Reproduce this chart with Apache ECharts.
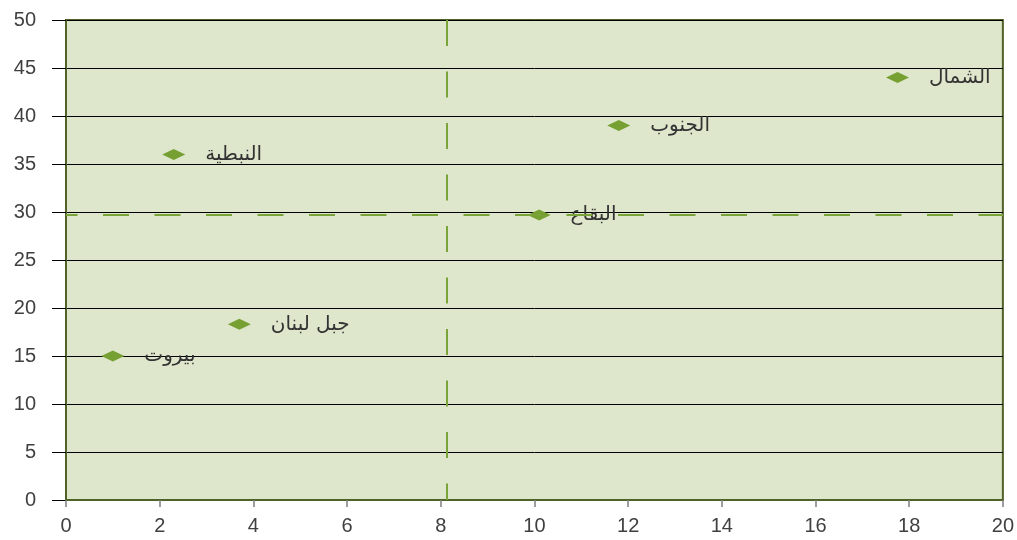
<!DOCTYPE html>
<html>
<head>
<meta charset="utf-8">
<script src="https://cdn.jsdelivr.net/npm/echarts@6/dist/echarts.min.js"></script>
<style>
  html, body { margin: 0; padding: 0; background: #ffffff; }
  #chart { width: 1017px; height: 540px; }
</style>
</head>
<body>
<div id="chart"></div>
<script>
// Regions plotted as (x, y) points
const regions = ['الشمال', 'الجنوب', 'النبطية', 'البقاع', 'جبل لبنان', 'بيروت'];
const xValues = [17.75, 11.8, 2.3, 10.1, 3.7, 1.0];
const yValues = [44.0, 39.0, 36.0, 29.7, 18.3, 15.0];

// Reference lines (dashed)
const refX = 8.12;
const refY = 29.7;

const xTicks = [0, 2, 4, 6, 8, 10, 12, 14, 16, 18, 20];
const yTicks = [0, 5, 10, 15, 20, 25, 30, 35, 40, 45, 50];

const xMin = xTicks[0], xMax = xTicks[xTicks.length - 1];
const yMin = yTicks[0], yMax = yTicks[yTicks.length - 1];

const points = regions.map((name, i) => ({ name: name, value: [xValues[i], yValues[i]] }));

const chart = echarts.init(document.getElementById('chart'), null, { renderer: 'canvas' });

const tickFont = { fontFamily: 'Liberation Sans, Arial, sans-serif', fontSize: 20, color: '#404040' };
const refLineStyle = { color: '#7aa33a', width: 2, type: [26, 25.5] };

chart.setOption({
  animation: false,
  backgroundColor: '#ffffff',
  grid: {
    left: 66, right: 13, top: 20, bottom: 40,
    show: true,
    backgroundColor: '#dee7cc',
    borderColor: '#4f6228',
    borderWidth: 2
  },
  xAxis: {
    type: 'value',
    min: xMin, max: xMax, interval: 2,
    axisLine: { show: true, onZero: false, lineStyle: { color: '#4f6228', width: 2 } },
    axisTick: { show: true, length: 7, lineStyle: { color: '#7f7f7f', width: 1.5 } },
    axisLabel: Object.assign({ margin: 16 }, tickFont),
    splitLine: { show: false }
  },
  yAxis: {
    type: 'value',
    min: yMin, max: yMax, interval: 5,
    axisLine: { show: true, lineStyle: { color: '#4f6228', width: 2 } },
    axisTick: { show: true, length: 14, lineStyle: { color: '#000000', width: 1 } },
    axisLabel: Object.assign({ margin: 30 }, tickFont),
    splitLine: { show: true, lineStyle: { color: '#000000', width: 1 } }
  },
  series: [{
    type: 'scatter',
    data: points,
    symbol: 'diamond',
    symbolSize: [23, 11],
    itemStyle: { color: '#77a032', opacity: 1 },
    label: {
      show: true,
      position: 'right',
      distance: 20,
      formatter: p => p.name,
      fontFamily: 'DejaVu Sans, Noto Sans, sans-serif',
      fontSize: 20,
      color: '#333333'
    },
    markLine: {
      silent: true,
      symbol: 'none',
      label: { show: false },
      data: [
        [
          { coord: [refX, yMax], lineStyle: refLineStyle },
          { coord: [refX, yMin] }
        ],
        [
          { coord: [xMin, refY], lineStyle: Object.assign({ dashOffset: 14.5 }, refLineStyle) },
          { coord: [xMax, refY] }
        ]
      ]
    },
    z: 3
  }]
});
</script>
</body>
</html>
